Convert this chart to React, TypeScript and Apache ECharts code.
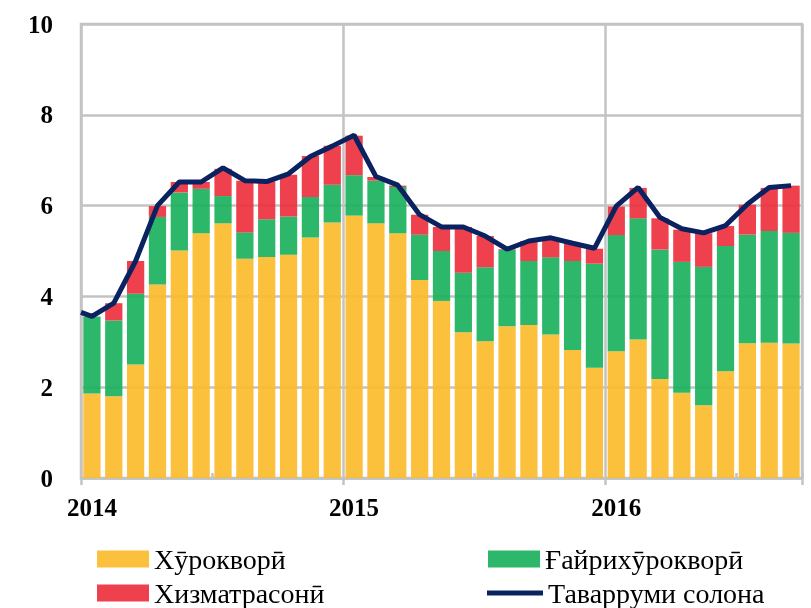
import React, { useEffect, useRef } from "react";
import * as echarts from "echarts";

const months = Array.from({ length: 33 }, (_, i) => `${2014 + Math.floor(i / 12)}-${(i % 12) + 1}`);
const yearLabels: Record<number, string> = { 0: "2014", 12: "2015", 24: "2016" };

const food = [1.86, 1.80, 2.50, 4.26, 5.01, 5.39, 5.61, 4.83, 4.87, 4.92, 5.30, 5.63,
  5.78, 5.61, 5.39, 4.36, 3.90, 3.21, 3.01, 3.34, 3.37, 3.16, 2.82, 2.43,
  2.79, 3.05, 2.18, 1.88, 1.60, 2.35, 2.97, 2.98, 2.96];
const nonFood = [1.70, 1.67, 1.56, 1.49, 1.28, 0.98, 0.60, 0.58, 0.83, 0.84, 0.89, 0.83,
  0.89, 0.94, 1.02, 1.00, 1.10, 1.31, 1.63, 1.68, 1.41, 1.70, 1.96, 2.29,
  2.56, 2.67, 2.85, 2.88, 3.05, 2.76, 2.39, 2.46, 2.44];
const services = [0.00, 0.38, 0.72, 0.24, 0.23, 0.15, 0.60, 1.14, 0.83, 0.92, 0.90, 0.86,
  0.87, 0.08, 0.03, 0.44, 0.53, 1.01, 0.69, 0.02, 0.44, 0.43, 0.39, 0.33,
  0.63, 0.67, 0.69, 0.71, 0.74, 0.44, 0.66, 0.95, 1.04];
const total = [3.56, 3.85, 4.78, 6.00, 6.52, 6.52, 6.83, 6.55, 6.53, 6.70, 7.08, 7.31,
  7.55, 6.64, 6.45, 5.80, 5.53, 5.53, 5.33, 5.04, 5.22, 5.29, 5.17, 5.06,
  5.99, 6.40, 5.74, 5.49, 5.40, 5.56, 6.03, 6.40, 6.44];
const totalStart = 3.65;

const names = ["Хӯрокворӣ", "Ғайрихӯрокворӣ", "Хизматрасонӣ", "Таварруми солона"];

const GRAY = "#c3c3c3";
const NAVY = "#0b2260";
const FONT = "'Liberation Serif', 'DejaVu Serif', serif";

const legendText = { fontFamily: FONT, fontSize: 28, color: "#000", lineHeight: 28 };

export default function App() {
  const ref = useRef<HTMLDivElement>(null);
  useEffect(() => {
    if (!ref.current) return;
    const chart = echarts.init(ref.current, undefined, { renderer: "svg" });
    const lineData: [number, number][] = [[-0.5, totalStart], ...total.map((v, i) => [i, v] as [number, number])];
    const mkLegend = (name: string, left: number, top: number, extra: any = {}) => ({
      data: [name], left, top, padding: 0, orient: "horizontal",
      itemWidth: 52, itemHeight: 17, icon: "rect", textStyle: legendText, ...extra,
    });
    chart.setOption({
      animation: false,
      grid: {
        left: 81, right: 9, top: 24, bottom: 130,
        show: true, borderColor: GRAY, borderWidth: 2.5, backgroundColor: "transparent",
      },
      legend: [
        mkLegend(names[0], 97, 545),
        mkLegend(names[2], 97, 579),
        mkLegend(names[1], 488, 545),
        mkLegend(names[3], 487, 579, { itemWidth: 56, itemHeight: 5, itemStyle: { color: NAVY } }),
      ],
      xAxis: [
        {
          type: "category", data: months, boundaryGap: true,
          axisLine: { show: true, lineStyle: { color: GRAY, width: 2.5 } },
          axisTick: { show: true, interval: (i: number) => i % 12 === 0, length: 7, lineStyle: { color: GRAY, width: 2.5 } },
          axisLabel: {
            interval: (i: number) => i % 12 === 0,
            formatter: (_v: string, i: number) => yearLabels[i] ?? "",
            fontFamily: FONT, fontWeight: "bold", fontSize: 25, color: "#000", margin: 17,
            alignMinLabel: "center",
          },
          splitLine: { show: true, interval: (i: number) => i % 12 === 0, lineStyle: { color: GRAY, width: 2.5 } },
        },
        {
          type: "value", min: -0.5, max: 32.5, show: false,
        },
        {
          type: "category", data: months, boundaryGap: true, position: "bottom",
          axisLine: { show: false },
          axisTick: { show: true, inside: true, interval: (i: number) => i % 12 === 6, length: 5, lineStyle: { color: GRAY, width: 2.5 } },
          axisLabel: { show: false },
          splitLine: { show: false },
        },
      ],
      yAxis: {
        type: "value", min: 0, max: 10, interval: 2,
        axisLine: { show: false }, axisTick: { show: false },
        axisLabel: { fontFamily: FONT, fontWeight: "bold", fontSize: 25, color: "#000", margin: 28 },
        splitLine: { show: true, lineStyle: { color: GRAY, width: 2.5 } },
      },
      series: [
        {
          name: names[0], type: "bar", stack: "s", data: food, barCategoryGap: "21%",
          itemStyle: { color: "#fbbc2e", opacity: 0.93 },
        },
        {
          name: names[1], type: "bar", stack: "s", data: nonFood, barCategoryGap: "21%",
          itemStyle: { color: "#1cb25f", opacity: 0.93 },
        },
        {
          name: names[2], type: "bar", stack: "s", data: services, barCategoryGap: "21%",
          itemStyle: { color: "#ee3340", opacity: 0.93 },
        },
        {
          name: names[3], type: "line", xAxisIndex: 1, data: lineData, symbol: "none",
          lineStyle: { color: NAVY, width: 5 }, itemStyle: { color: NAVY },
          z: 5,
        },
      ],
    });
    return () => chart.dispose();
  }, []);
  return <div ref={ref} style={{ width: 811, height: 608, position: "fixed", left: 0, top: 0 }} />;
}
